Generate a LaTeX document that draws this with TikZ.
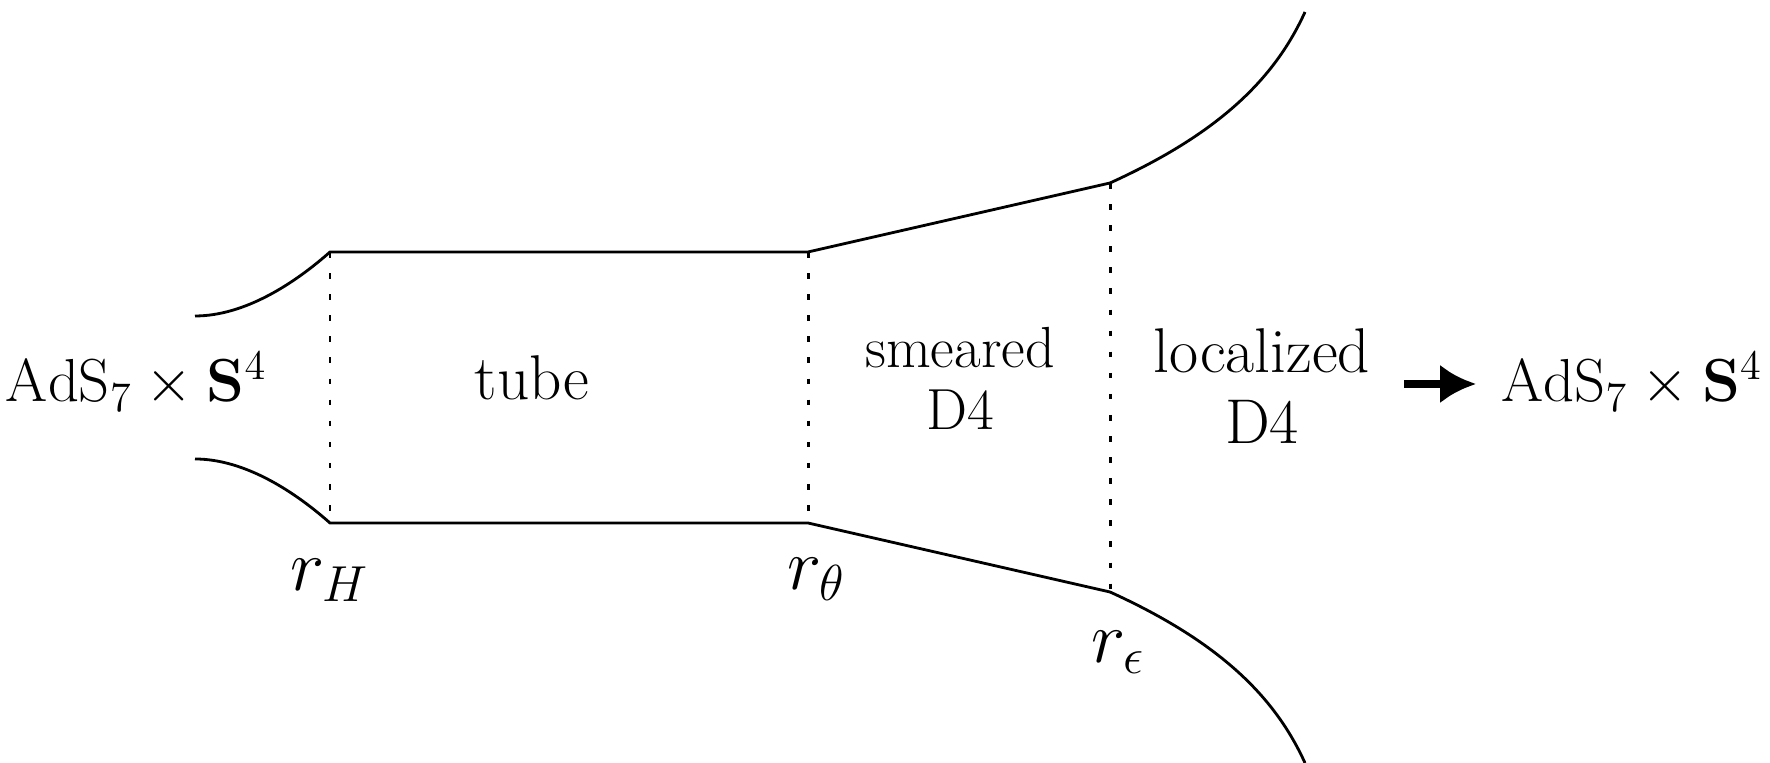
\documentclass[tikz,border=0pt]{standalone}
\usepackage{amsmath,amssymb}
\usepackage{tikz}
\usetikzlibrary{calc, positioning, arrows.meta}

\begin{document}
\begin{tikzpicture}[
  wall/.style={line width=0.8pt},
  horizon/.style={line width=0.85pt, dash pattern=on 1.6pt off 4.4pt},
  bigtext/.style={font=\fontsize{18}{21.6}\selectfont},
  adstext/.style={font=\fontsize{16.7}{20}\selectfont},
  midtext/.style={font=\fontsize{16.5}{17.6}\selectfont, align=center},
  loctext/.style={font=\fontsize{18}{20.2}\selectfont, align=center},
  rlab/.style={font=\fontsize{19.5}{23}\selectfont, inner sep=0pt},
  flowarrow/.style={line width=2.4pt, -{Latex[length=3.6mm, width=3.9mm]}}
]
\useasboundingbox (0,0) rectangle (17.70,7.63);

% corner points of the throat
\coordinate (lt0) at (1.95,4.47);
\coordinate (lb0) at (1.95,3.04);
\coordinate (lt1) at (3.30,5.11);
\coordinate (lb1) at (3.30,2.40);
\coordinate (th) at (8.08,5.11);
\coordinate (bh) at (8.08,2.40);
\coordinate (te) at (11.10,5.80);
\coordinate (be) at (11.10,1.71);
\coordinate (tf) at (13.05,7.51);
\coordinate (bf) at (13.05,0.00);

% outer walls
\draw[wall] (lt0) .. controls (2.45,4.47) and (2.95,4.80) .. (lt1) -- (th) -- (te)
  .. controls (12.20,6.30) and (12.75,6.85) .. (tf);
\draw[wall] (lb0) .. controls (2.45,3.04) and (2.95,2.71) .. (lb1) -- (bh) -- (be)
  .. controls (12.20,1.21) and (12.75,0.66) .. (bf);

% dotted slices
\draw[horizon] (lt1) -- (lb1);
\draw[horizon] (th) -- (bh);
\draw[horizon] (te) -- (be);

% radii
\node[rlab, anchor=base] (rH) at ([yshift=-0.68cm]lb1) {$r_H$};
\node[rlab, anchor=base] (rT) at ([xshift=0.09cm, yshift=-0.67cm]bh) {$r_\theta$};
\node[rlab, anchor=base] (rE) at ([xshift=0.08cm, yshift=-0.71cm]be) {$r_\epsilon$};

% region labels
\node[adstext, anchor=base] (adsL) at (1.365,3.61) {$\mathrm{AdS}_7\times\mathbf{S}^4$};
\node[bigtext, anchor=base] (tube) at (5.32,3.63) {tube};
\node[midtext] (smear) at (9.60,3.845) {smeared\\D4};
\node[loctext] (local) at (12.62,3.77) {localized\\D4};
\node[adstext, anchor=base] (adsR) at (16.32,3.61) {$\mathrm{AdS}_7\times\mathbf{S}^4$};

% flow to the far region
\coordinate (arrS) at (14.04,3.79);
\coordinate (arrE) at (14.76,3.79);
\draw[flowarrow] (arrS) -- (arrE);
\end{tikzpicture}
\end{document}
